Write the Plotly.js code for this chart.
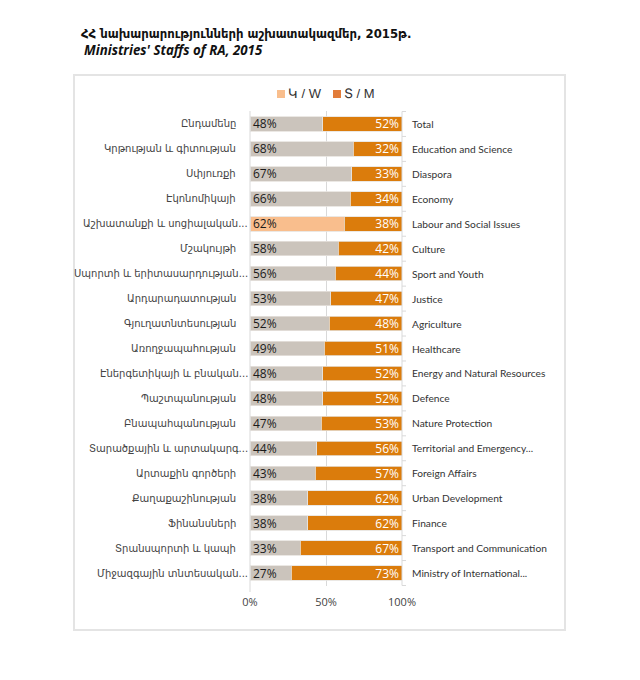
<!DOCTYPE html>
<html><head><meta charset="utf-8">
<script src="https://cdn.plot.ly/plotly-3.0.1.min.js"></script>
<style>body{margin:0;background:#fff}#c{width:640px;height:680px}</style>
</head><body><div id="c"></div>
<script>
const catsHy = ["Ընդամենը","Կրթության և գիտության","Սփյուռքի","Էկոնոմիկայի","Աշխատանքի և սոցիալական...","Մշակույթի","Սպորտի և երիտասարդության...","Արդարադատության","Գյուղատնտեսության","Առողջապահության","Էներգետիկայի և բնական...","Պաշտպանության","Բնապահպանության","Տարածքային և արտակարգ...","Արտաքին գործերի","Քաղաքաշինության","Ֆինանսների","Տրանսպորտի և կապի","Միջազգային տնտեսական..."];
const catsEn = ["Total","Education and Science","Diaspora","Economy","Labour and Social Issues","Culture","Sport and Youth","Justice","Agriculture","Healthcare","Energy and Natural Resources","Defence","Nature Protection","Territorial and Emergency...","Foreign Affairs","Urban Development","Finance","Transport and Communication","Ministry of International..."];
const women = [48,68,67,66,62,58,56,53,52,49,48,48,47,44,43,38,38,33,27];
const men   = [52,32,33,34,38,42,44,47,48,51,52,52,53,56,57,62,62,67,73];
const seriesNames = ["Կ / W","Տ / M"];
const xTicks = [0,50,100];
const xTickLabels = ["0%","50%","100%"];

const GREY="#CBC4BC", ORANGE="#DB7C0C", LIGHT="#F9BE8D", LEG_M="#E27C3A";
const wColors = catsHy.map((c,i)=> i===4 ? LIGHT : GREY);
const lineStyle = {color:"#E6E2DD", width:0.8};
const PT=111, PB=586, PL=250, PR=402;
const py = v => (PB - v)/(PB-PT);
const px = v => (v - PL)/(PR-PL);

const traces = [
 {type:"bar", orientation:"h", y:catsHy, x:women, name:seriesNames[0], showlegend:false,
  marker:{color:wColors, line:lineStyle}, text:women.map(v=>v+"%"), textposition:"inside",
  insidetextanchor:"start", textfont:{family:"Open Sans, Noto Sans, sans-serif", size:12, color:"#1a1a1a"},
  hoverinfo:"skip", constraintext:"none"},
 {type:"bar", orientation:"h", y:catsHy, x:men, name:seriesNames[1], showlegend:false,
  marker:{color:ORANGE, line:lineStyle}, text:men.map(v=>v+"%"), textposition:"inside",
  insidetextanchor:"end", textfont:{family:"Open Sans, Noto Sans, sans-serif", size:12, color:"#ffffff"},
  hoverinfo:"skip", constraintext:"none"}
];

const annotations = [];
catsEn.forEach((t,i)=>annotations.push({x:1, xref:"paper", y:catsHy[i], yref:"y", text:t, showarrow:false,
  xanchor:"left", xshift:8, font:{family:"Lato, Open Sans, sans-serif", size:10.2, color:"#333"}}));
catsHy.forEach((t,i)=>annotations.push({x:0, xref:"paper", y:t, yref:"y", text:t, showarrow:false,
  xanchor:"right", xshift: t.endsWith("...") ? 0 : -12, font:{family:"DejaVu Sans, Noto Sans, sans-serif", size:10, color:"#444"}}));
annotations.push({xref:"paper", yref:"paper", x:px(79), y:py(34), xanchor:"left", yanchor:"middle",
  text:"<b>ՀՀ նախարարությունների աշխատակազմեր, 2015թ.</b>", showarrow:false,
  font:{family:"DejaVu Sans, Noto Sans, sans-serif", size:11.7, color:"#111"}});
annotations.push({xref:"paper", yref:"paper", x:px(82), y:py(50), xanchor:"left", yanchor:"middle",
  text:"<b><i>Ministries' Staffs of RA, 2015</i></b>", showarrow:false,
  font:{family:"Open Sans, Noto Sans, sans-serif", size:13.3, color:"#111"}});
// legend (drawn manually)
annotations.push({xref:"paper", yref:"paper", x:px(286), y:py(94), xanchor:"left", yanchor:"middle",
  text:seriesNames[0], showarrow:false, font:{family:"Liberation Sans, Arial, sans-serif", size:13, color:"#333"}});
annotations.push({xref:"paper", yref:"paper", x:px(342), y:py(94), xanchor:"left", yanchor:"middle",
  text:seriesNames[1], showarrow:false, font:{family:"Liberation Sans, Arial, sans-serif", size:13, color:"#333"}});

const shapes = [
 {type:"line", xref:"paper", yref:"paper", x0:0, x1:0, y0:py(592), y1:1.0, line:{color:"#D9D9D9", width:1}},
 {type:"line", xref:"paper", yref:"y", x0:1, x1:1, y0:-0.5, y1:catsHy.length-0.5, line:{color:"#D9D9D9", width:1}},
 {type:"rect", xref:"paper", yref:"paper", x0:px(74), x1:px(565), y0:py(630), y1:py(75),
  line:{color:"#E4E4E4", width:2}, fillcolor:"rgba(0,0,0,0)", layer:"below"},
 {type:"rect", xref:"paper", yref:"paper", x0:px(277), x1:px(285), y0:py(98), y1:py(90), line:{width:0}, fillcolor:LIGHT},
 {type:"rect", xref:"paper", yref:"paper", x0:px(333), x1:px(341), y0:py(98), y1:py(90), line:{width:0}, fillcolor:LEG_M}
];
for(let k=0;k<=catsHy.length;k++){
  shapes.push({type:"line", xref:"paper", yref:"y", x0:1, x1:px(406), y0:k-0.5, y1:k-0.5, line:{color:"#D9D9D9", width:1}});
}

const layout = {
 width:640, height:680, margin:{l:PL, r:640-PR, t:PT, b:680-PB},
 paper_bgcolor:"#fff", plot_bgcolor:"#fff",
 barmode:"stack", bargap:0.42, showlegend:false,
 xaxis:{range:[0,100], tickvals:xTicks, ticktext:xTickLabels, showgrid:true, gridcolor:"#D9D9D9", gridwidth:1,
   zeroline:false, showline:false, ticks:"", ticklabelstandoff:8, fixedrange:true,
   tickfont:{family:"Open Sans, Noto Sans, sans-serif", size:11, color:"#444"}},
 yaxis:{type:"category", autorange:"reversed", showgrid:false, zeroline:false, ticks:"", showticklabels:false},
 annotations:annotations, shapes:shapes
};
Plotly.newPlot("c", traces, layout, {staticPlot:true});
</script></body></html>
